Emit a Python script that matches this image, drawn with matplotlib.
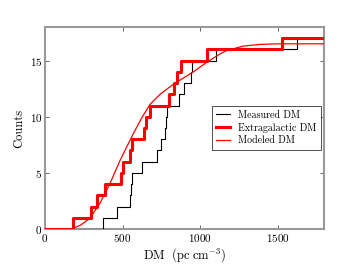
import numpy as np
import matplotlib
matplotlib.use('Agg')
import matplotlib.pyplot as plt

plt.rcParams['font.family'] = ['cmr10', 'DejaVu Serif']
plt.rcParams['mathtext.fontset'] = 'cm'
plt.rcParams['axes.formatter.use_mathtext'] = True

# DM values (pc cm^-3) at which each cumulative step occurs
measured_dm = [372, 467, 550, 553, 560, 624, 720, 746, 776, 780, 789,
               862, 897, 942, 946, 1103, 1626]
extragal_dm = [179, 297, 333, 387, 493, 500, 548, 559, 640, 650, 677,
               800, 835, 850, 877, 1043, 1527]

# modeled cumulative curve
model_dm = [0, 150, 183, 230, 290, 355, 419, 484, 516, 570, 620, 677,
            742, 828, 957, 1043, 1129, 1172, 1280, 1387, 1500, 1800]
model_counts = [0, 0, 0.06, 0.35, 0.95, 2.3, 4.05, 6.1, 7.0, 8.5, 9.8, 11.1,
                12.0, 12.9, 14.0, 14.85, 15.6, 15.9, 16.3, 16.45, 16.5, 16.5]

xmax = 1800


def cumulative(vals):
    x = [0] + list(vals) + [xmax]
    y = [0] + list(range(1, len(vals) + 1)) + [len(vals)]
    return x, y


fig = plt.figure(figsize=(3.6, 2.7), dpi=100)
ax = fig.add_axes([0.125, 0.152, 0.775, 0.748])

x, y = cumulative(measured_dm)
ax.step(x, y, where='post', color='black', lw=0.8, label='Measured DM', zorder=3)
x, y = cumulative(extragal_dm)
ax.step(x, y, where='post', color='red', lw=2.2, label='Extragalactic DM', zorder=3)
ax.plot(model_dm, model_counts, color='red', lw=0.9, label='Modeled DM', zorder=3)

ax.set_xlim(0, xmax)
ax.set_ylim(0, 18)
ax.set_xticks([0, 500, 1000, 1500])
ax.set_yticks([0, 5, 10, 15])
ax.tick_params(direction='in', top=True, right=True, labelsize=8,
               length=3, width=0.6, color='0.3', pad=2)
for s in ax.spines.values():
    s.set_color('0.6')
    s.set_linewidth(1.5)

ax.set_xlabel(r'$\mathrm{DM}\ \ (\mathrm{pc\ cm^{-3}})$', fontsize=9, labelpad=2)
ax.set_ylabel('Counts', fontsize=9, labelpad=3)

leg = ax.legend(loc='center right', fontsize=7.2, fancybox=False,
                handlelength=1.4, handletextpad=0.8, borderpad=0.45,
                borderaxespad=0.3, labelspacing=0.3)
leg.get_frame().set_edgecolor('black')
leg.get_frame().set_linewidth(0.6)

fig.savefig('out.png', dpi=100)
